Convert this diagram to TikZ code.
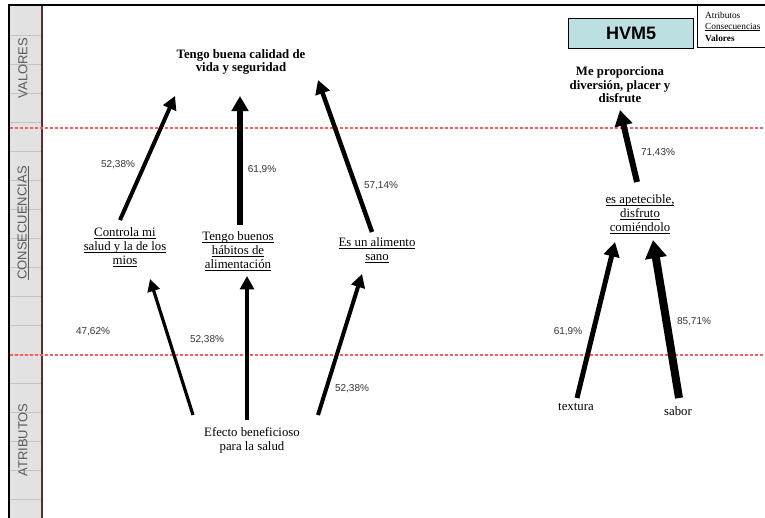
\documentclass[tikz,border=0pt]{standalone}
\usepackage{fontspec}
\setmainfont{Liberation Serif}
\setsansfont{Liberation Sans}
\usetikzlibrary{arrows.meta}

\definecolor{sidegray}{HTML}{E2E2E2}
\definecolor{gridgray}{HTML}{C4C4C4}
\definecolor{edgebrown}{HTML}{5A3030}
\definecolor{dashred}{HTML}{FF5C5C}
\definecolor{titlefill}{HTML}{BCE0E2}
\definecolor{pctgray}{HTML}{333333}
\definecolor{sidetext}{HTML}{5A5A5A}

% underline at a fixed depth below the baseline
\newcommand\udl[1]{\setbox0\hbox{#1}\rlap{\rule[-1.8pt]{\wd0}{0.6pt}}\box0}

\begin{document}
\begin{tikzpicture}[x=1pt,y=-1pt,
  concept/.style={font=\fontsize{12.8}{14}\selectfont, align=center, inner sep=0pt},
  value/.style={font=\bfseries\fontsize{12.8}{13.5}\selectfont, align=center, inner sep=0pt},
  attrib/.style={font=\fontsize{12.8}{14}\selectfont, align=center, inner sep=0pt},
  pct/.style={font=\sffamily\fontsize{10}{12}\selectfont, text=pctgray, inner sep=0pt},
  link/.style={line width=#1, -{Triangle[length=8.5pt 1.2, width=6.5pt 1.8]}},
  sidelabel/.style={rotate=90, font=\sffamily\fontsize{13}{15}\selectfont, text=sidetext, inner sep=0pt},
  levelline/.style={dashred, line width=1.3pt, dash pattern=on 3pt off 2pt},
  legendtext/.style={font=\fontsize{9.3}{10}\selectfont, anchor=west, inner sep=0pt}]

\useasboundingbox (0,0) rectangle (765,518);
\fill[white] (0,0) rectangle (765,518);

% side column with level names
\fill[sidegray] (10,6) rectangle (41.5,518);
\foreach \y in {35,64,...,499} \draw[gridgray, line width=0.6pt] (10,\y) -- (41.5,\y);
\draw[edgebrown, line width=1.2pt] (42,6) -- (42,518);
\draw[line width=2.2pt] (9,4) -- (9,518);
\draw[line width=2.2pt] (8,5) -- (765,5);

\node[sidelabel] (sv) at (23,68) {VALORES};
\node[sidelabel] (sc) at (23,223) {\udl{CONSECUENCIAS}};
\node[sidelabel] (sa) at (23,440) {ATRIBUTOS};

% level separators
\draw[levelline] (10,128) -- (765,128);
\draw[levelline] (10,355) -- (765,355);

% title and legend
\node[draw, line width=0.8pt, fill=titlefill, minimum width=125pt, minimum height=30pt,
      font=\sffamily\bfseries\fontsize{18}{20}\selectfont] (hvm) at (631,33) {HVM5};
\draw[line width=0.8pt] (697,5) rectangle (775,47);
\node[legendtext] (la) at (705,15) {Atributos};
\node[legendtext] (lc) at (705,27) {\udl{Consecuencias}};
\node[legendtext] (lv) at (705,38.5) {\textbf{Valores}};

% values
\node[value] (v1) at (241,62) {Tengo buena calidad de\\vida y seguridad};
\node[value] (v2) at (620,85) {Me proporciona\\diversión, placer y\\disfrute};

% consequences
\node[concept] (c1) at (125,247) {\udl{Controla mi}\\\udl{salud y la de los}\\\udl{mios}};
\node[concept] (c2) at (238,251) {\udl{Tengo buenos}\\\udl{hábitos de}\\\udl{alimentación}};
\node[concept] (c3) at (377,250) {\udl{Es un alimento}\\\udl{sano}};
\node[concept] (c4) at (640,214) {\udl{es apetecible,}\\\udl{disfruto}\\\udl{comiéndolo}};

% attributes
\node[attrib] (a1) at (252,440) {Efecto beneficioso\\para la salud};
\node[attrib] (a2) at (576,407) {textura};
\node[attrib] (a3) at (678,411) {sabor};

% connector end points
\coordinate (c1t) at (120,220);  \coordinate (v1a) at (175,96);
\coordinate (c2t) at (240,225);  \coordinate (v1b) at (240,96);
\coordinate (c3t) at (372,232);  \coordinate (v1c) at (318,80);
\coordinate (c4t) at (637,182);  \coordinate (v2a) at (620,110);
\coordinate (a1l) at (193,415);  \coordinate (c1b) at (150,279);
\coordinate (a1m) at (247,420);  \coordinate (c2b) at (247,276);
\coordinate (a1r) at (318,415);  \coordinate (c3b) at (362,274);
\coordinate (a2t) at (577,398);  \coordinate (c4l) at (615,242);
\coordinate (a3t) at (679,398);  \coordinate (c4r) at (653,240);

% consequence -> value links
\draw[link=4pt]   (c1t) -- (v1a);
\draw[link=5.5pt] (c2t) -- (v1b);
\draw[link=4.5pt] (c3t) -- (v1c);
\draw[link=6pt]   (c4t) -- (v2a);

% attribute -> consequence links
\draw[link=3.2pt] (a1l) -- (c1b);
\draw[link=4pt]   (a1m) -- (c2b);
\draw[link=4pt]   (a1r) -- (c3b);
\draw[link=5pt]   (a2t) -- (c4l);
\draw[link=8pt]   (a3t) -- (c4r);

% link percentages
\node[pct] (p1) at (118,165) {52,38\%};
\node[pct] (p2) at (262,170) {61,9\%};
\node[pct] (p3) at (381,186) {57,14\%};
\node[pct] (p4) at (658,153) {71,43\%};
\node[pct] (p5) at (93,332) {47,62\%};
\node[pct] (p6) at (207,340) {52,38\%};
\node[pct] (p7) at (352,389) {52,38\%};
\node[pct] (p8) at (568,332) {61,9\%};
\node[pct] (p9) at (694,322) {85,71\%};

\end{tikzpicture}
\end{document}
